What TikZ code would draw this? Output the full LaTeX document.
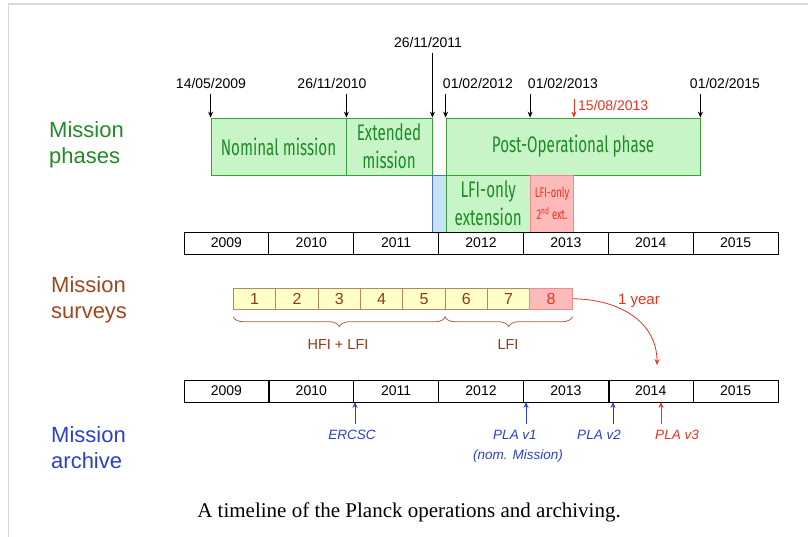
\documentclass[tikz,border=0pt]{standalone}
\usepackage{fontspec}
\setmainfont{Liberation Sans}
\newfontfamily\condfont[FakeStretch=0.675]{Fira Sans}
\newfontfamily\capfont{Liberation Serif}
\usetikzlibrary{arrows.meta, positioning, calc, decorations.pathreplacing}
\definecolor{marcog}{HTML}{D9D9D9}
\definecolor{verdec}{HTML}{C8F5C8}
\definecolor{verdeb}{HTML}{3A9E3A}
\definecolor{verdet}{HTML}{1F8B24}
\definecolor{azulc}{HTML}{C5E2F6}
\definecolor{azulb}{HTML}{4F74C0}
\definecolor{rosac}{HTML}{FDBABA}
\definecolor{rosab}{HTML}{EE8C86}
\definecolor{rojo}{HTML}{F0301E}
\definecolor{amarc}{HTML}{FFFFC8}
\definecolor{marronb}{HTML}{B9875A}
\definecolor{marron}{HTML}{8E3C16}
\definecolor{marront}{HTML}{A0461E}
\definecolor{azult}{HTML}{2B3FCC}
\tikzset{
  marco/.style={draw=marcog, line width=1.5pt},
  rotulo/.style={anchor=west, align=left, inner sep=0pt,
                 font=\fontsize{22}{26}\selectfont},
  fase/.style={rectangle, draw=verdeb, fill=verdec, line width=0.8pt, inner sep=0pt,
               minimum height=57pt, align=center, text=verdet,
               font=\condfont\fontsize{22.5}{28}\selectfont},
  faseazul/.style={fase, draw=azulb, fill=azulc},
  faseroja/.style={fase, draw=rosab, fill=rosac, text=rojo,
                   font=\condfont\fontsize{14}{22}\selectfont},
  fecha/.style={inner sep=1pt, font=\fontsize{14}{16}\selectfont},
  anio/.style={rectangle, draw=black, line width=0.8pt, minimum width=84.86pt,
               minimum height=22pt, inner sep=0pt, font=\fontsize{14}{16}\selectfont},
  celda/.style={rectangle, draw=marronb, fill=amarc, line width=0.8pt, minimum width=42.33pt,
                minimum height=21pt, inner sep=0pt, text=marron, font=\fontsize{16}{18}\selectfont},
  celdaroja/.style={celda, draw=rosab, fill=rosac, text=rojo},
  llave/.style={draw=marron!80, line width=0.8pt, decorate,
                decoration={brace, mirror, amplitude=10pt}},
  archivo/.style={inner sep=1pt, text=azult, font=\itshape\fontsize{13.5}{16}\selectfont},
  arrow/.style={line width=0.8pt, ->, >={Stealth[length=6pt, width=5pt]}},
}

\begin{document}
\begin{tikzpicture}[x=1pt, y=-1pt]
  \useasboundingbox (0,0) rectangle (808,537);
  \draw[marco] (8.5,537) -- (8.5,4) -- (808,4);

  % rotulos
  \node (tfases) [rotulo, text=verdet] at (49,145) {Mission\\phases};
  \node (tsurv) [rotulo, text=marront] at (51,300) {Mission\\surveys};
  \node (tarch) [rotulo, text=azult] at (51,448) {Mission\\archive};

  % fases de la mision
  \node (nom) [fase, minimum width=135pt] at (278.5,146.5) {Nominal mission};
  \node (ext) [fase, minimum width=86pt] at (389,146.5) {Extended\\mission};
  \node (post) [fase, minimum width=254pt] at (573,146.5) {Post-Operational phase};
  \node (hueco) [faseazul, minimum width=14pt] at (439,203.5) {};
  \node (lfiext) [fase, minimum width=84.5pt] at (488.25,203.5) {LFI-only\\extension};
  \node (lfidos) [faseroja, minimum width=43pt] at (552,203.5) {LFI-only\\2\textsuperscript{nd} ext.};

  % fechas
  \node (d0) [fecha] at (211,83) {14/05/2009};
  \node (d1) [fecha] at (332,83) {26/11/2010};
  \node (d2) [fecha] at (428,42) {26/11/2011};
  \node (d3) [fecha] at (478,83) {01/02/2012};
  \node (d4) [fecha] at (563,83) {01/02/2013};
  \node (d5) [fecha] at (725,83) {01/02/2015};
  \node (d6) [fecha, text=rojo, anchor=west] at (577,105) {15/08/2013};
  \draw [arrow, shorten <=5pt] (d0.south -| nom.north west) -- (nom.north west);
  \draw [arrow, shorten <=5pt] (d1.south -| nom.north east) -- (nom.north east);
  \draw [arrow, shorten <=5pt] (d2.south -| ext.north east) -- (ext.north east);
  \draw [arrow, shorten <=5pt] (d3.south -| post.north west) -- (post.north west);
  \draw [arrow, shorten <=5pt] (d4.south -| lfidos.west) -- (lfidos.west |- post.north);
  \draw [arrow, shorten <=5pt] (d5.south -| post.north east) -- (post.north east);
  \draw [arrow, rojo] (d6.north -| lfidos.east) -- (lfidos.east |- post.north);

  % barras de anios
  \foreach \a [count=\i from 0] in {2009,...,2015} {
    \node (ya\i) [anio] at ({226.43+84.86*\i},243) {\a};
    \node (yb\i) [anio] at ({226.43+84.86*\i},391) {\a};
  }
  \draw [line width=1.8pt] (yb0.north east) -- (yb0.south east);
  \draw [line width=1.8pt] (yb4.north east) -- (yb4.south east);

  % barridos
  \foreach \n in {1,...,7}
    \node (s\n) [celda] at ({212.33+42.33*\n},298.8) {\n};
  \node (s8) [celdaroja] at ({212.33+42.33*8},298.8) {8};
  \draw [llave] ([yshift=-7pt]s1.south west) -- ([yshift=-7pt]s5.south east);
  \draw [llave] ([yshift=-7pt]s6.south west) -- ([yshift=-7pt]s8.south east);
  \node (hl) [text=marron, font=\fontsize{14.5}{16}\selectfont] at (338,345) {HFI + LFI};
  \node (lo) [text=marron, font=\fontsize{14.5}{16}\selectfont] at (508,345) {LFI};
  \coordinate (fin) at (657,365);
  \draw [arrow, rojo] (s8.east) .. controls +(42,0) and +(0,-46) .. (fin);
  \node (un) [text=rojo, font=\fontsize{15}{16}\selectfont] at (639,301) {1 year};

  % archivo
  \coordinate (pe) at (355,402);
  \coordinate (p1) at (526,402);
  \coordinate (p2) at (613,402);
  \coordinate (p3) at (661,402);
  \node (le) [archivo] at (352,435) {ERCSC};
  \node (l1) [archivo] at (515,435) {PLA v1};
  \node (ln) [archivo] at (518,456) {(nom. Mission)};
  \node (l2) [archivo] at (599,435) {PLA v2};
  \node (l3) [archivo, text=rojo] at (677,435) {PLA v3};
  \draw [arrow, azult, shorten <=5pt] (pe |- le.north) -- (pe);
  \draw [arrow, azult, shorten <=5pt] (p1 |- l1.north) -- (p1);
  \draw [arrow, azult, shorten <=5pt] (p2 |- l2.north) -- (p2);
  \draw [arrow, rojo, shorten <=5pt] (p3 |- l3.north) -- (p3);

  \node (cap) [font=\capfont\fontsize{21}{24}\selectfont] at (409,512)
    {A timeline of the Planck operations and archiving.};
\end{tikzpicture}
\end{document}
